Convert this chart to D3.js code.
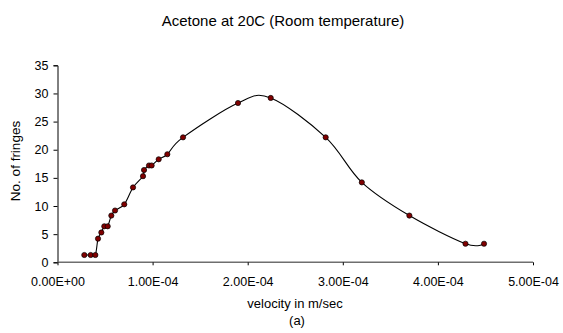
<!DOCTYPE html>
<html>
<head>
<meta charset="utf-8">
<script src="https://cdn.jsdelivr.net/npm/d3@7"></script>
<style>
  html, body { margin: 0; padding: 0; background: #fff; }
  svg { display: block; font-family: "Liberation Sans", Arial, sans-serif; }
</style>
</head>
<body>
<svg id="chart" width="563" height="333"></svg>
<script>
// ---- data ----
const velocity = [2.82e-5, 3.49e-5, 3.98e-5, 4.26e-5, 4.61e-5, 4.92e-5, 5.28e-5, 5.66e-5, 6.05e-5, 7.02e-5,
                  7.94e-5, 8.99e-5, 9.10e-5, 9.62e-5, 9.90e-5, 1.064e-4, 1.155e-4, 1.32e-4, 1.898e-4, 2.242e-4,
                  2.82e-4, 3.20e-4, 3.70e-4, 4.29e-4, 4.485e-4];
const fringes  = [1.3, 1.3, 1.3, 4.2, 5.3, 6.4, 6.4, 8.3, 9.2, 10.3,
                  13.3, 15.3, 16.4, 17.2, 17.2, 18.3, 19.2, 22.2, 28.3, 29.2,
                  22.2, 14.2, 8.3, 3.3, 3.3];
const xTicks = [0, 1e-4, 2e-4, 3e-4, 4e-4, 5e-4];
const xTickLabels = ["0.00E+00", "1.00E-04", "2.00E-04", "3.00E-04", "4.00E-04", "5.00E-04"];
const yTicks = [0, 5, 10, 15, 20, 25, 30, 35];
const titleText = "Acetone at 20C (Room temperature)";
const xTitle = "velocity in m/sec";
const yTitle = "No. of fringes";
const caption = "(a)";

(function () {
// ---- layout ----
const svg = d3.select("#chart");
const pLeft = 57.5, pRight = 533, pTop = 65.3, pBottom = 262.3;

const x = d3.scaleLinear().domain([0, 5e-4]).range([pLeft, pRight]);
const y = d3.scaleLinear().domain([0, 35]).range([pBottom, pTop]);

// Y axis
const yAxis = d3.axisLeft(y).tickValues(yTicks).tickSize(4).tickPadding(5).tickFormat(d3.format("d"));
const gy = svg.append("g").attr("transform", `translate(${pLeft},0)`).call(yAxis);
gy.select(".domain").attr("stroke", "#000").attr("stroke-width", 1);
gy.selectAll(".tick line").attr("stroke", "#000");
gy.selectAll("text").attr("font-size", 12.5).attr("fill", "#000")
  .attr("font-family", "'Liberation Sans', Arial, sans-serif");

// X axis
const xAxis = d3.axisBottom(x).tickValues(xTicks).tickSize(3).tickPadding(12)
  .tickFormat((d, i) => xTickLabels[i]);
const gx = svg.append("g").attr("transform", `translate(0,${pBottom})`).call(xAxis);
gx.select(".domain").attr("stroke", "#6e6e6e").attr("stroke-width", 1.6).attr("d", `M${pLeft},0H${pRight}`);
gx.selectAll(".tick line").attr("stroke", "#000");
gx.selectAll("text").attr("font-size", 12.5).attr("fill", "#000")
  .attr("font-family", "'Liberation Sans', Arial, sans-serif");

// Smoothed line (Excel-style Catmull-Rom)
const pts = velocity.map((v, i) => [v, fringes[i]]);
const line = d3.line().x(d => x(d[0])).y(d => y(d[1])).curve(d3.curveCatmullRom.alpha(0));
svg.append("path").datum(pts).attr("d", line)
  .attr("fill", "none").attr("stroke", "#000").attr("stroke-width", 1.1);

// Markers
svg.append("g").selectAll("circle").data(pts).join("circle")
  .attr("cx", d => x(d[0])).attr("cy", d => y(d[1])).attr("r", 2.6)
  .attr("fill", "#800000").attr("stroke", "#000").attr("stroke-width", 0.7);

// Titles
svg.append("text").attr("x", 283).attr("y", 26).attr("text-anchor", "middle")
  .attr("font-size", 15).attr("fill", "#000").text(titleText);
svg.append("text").attr("x", 295).attr("y", 308).attr("text-anchor", "middle")
  .attr("font-size", 13).attr("fill", "#000").text(xTitle);
svg.append("text").attr("x", 297).attr("y", 325).attr("text-anchor", "middle")
  .attr("font-size", 13).attr("fill", "#000").text(caption);
svg.append("text").attr("transform", "translate(20,161) rotate(-90)").attr("text-anchor", "middle")
  .attr("font-size", 13.5).attr("fill", "#000").text(yTitle);
})();
</script>
</body>
</html>
